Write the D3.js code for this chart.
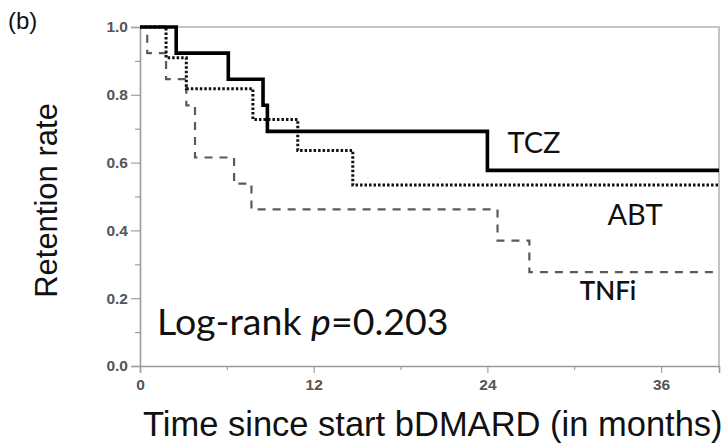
<!DOCTYPE html>
<html>
<head>
<meta charset="utf-8">
<script src="https://cdn.jsdelivr.net/npm/d3@7"></script>
<style>
  html, body { margin: 0; padding: 0; background: #fff; }
  svg { display: block; }
</style>
</head>
<body>
<svg id="chart" width="722" height="443"></svg>
<script>
// ---- data ----
const groups = ["TCZ", "ABT", "TNFi"];
const tczTimes  = [0, 2.5, 6.1, 8.5, 8.8, 24.0];
const tczRates  = [1.0, 0.923, 0.846, 0.769, 0.692, 0.577];
const abtTimes  = [0, 1.8, 3.2, 7.8, 10.9, 14.7];
const abtRates  = [1.0, 0.909, 0.818, 0.727, 0.636, 0.534];
const tnfTimes  = [0, 0.5, 1.8, 3.2, 3.8, 6.5, 7.7, 24.7, 26.9];
const tnfRates  = [1.0, 0.923, 0.846, 0.769, 0.615, 0.538, 0.462, 0.370, 0.277];
const followUpEnd = 40;
const xTicks = [0, 12, 24, 36];
const xMinorTicks = [6, 18, 30];
const yTicks = [0, 0.2, 0.4, 0.6, 0.8, 1.0];
const yMinorTicks = [0.1, 0.3, 0.5, 0.7, 0.9];
const pValueText = "0.203";

// ---- layout ----
const svg = d3.select("#chart");
const m = { left: 140, top: 27, right: 3, bottom: 77 };
const W = 722, H = 443;
const x = d3.scaleLinear().domain([0, followUpEnd]).range([m.left, W - m.right]);
const y = d3.scaleLinear().domain([0, 1]).range([H - m.bottom, m.top]);

// frame (top / right)
svg.append("path")
  .attr("d", `M${x(0)},${y(1)}H${x(followUpEnd)}V${y(0)}`)
  .attr("fill", "none").attr("stroke", "#c4c4c4").attr("stroke-width", 2);

// axes
const fmt = d3.format(".1f");
svg.append("g").attr("transform", `translate(${x(0)},0)`)
  .call(d3.axisLeft(y).tickValues(yTicks).tickFormat(fmt).tickSize(9).tickPadding(3));
svg.append("g").attr("transform", `translate(${x(0)},0)`)
  .call(d3.axisLeft(y).tickValues(yMinorTicks).tickFormat("").tickSize(5))
  .call(g => g.select(".domain").remove());
svg.append("g").attr("transform", `translate(0,${y(0)})`)
  .call(d3.axisBottom(x).tickValues(xTicks).tickFormat(d3.format("d")).tickSize(7).tickPadding(6));
svg.append("g").attr("transform", `translate(0,${y(0)})`)
  .call(d3.axisBottom(x).tickValues(xMinorTicks).tickFormat("").tickSize(4))
  .call(g => g.select(".domain").remove());

svg.selectAll(".domain").attr("stroke", "#9a9a9a").attr("stroke-width", 1.6);
svg.selectAll(".tick line").attr("stroke", "#a0a0a0").attr("stroke-width", 1.2);
svg.selectAll(".tick text")
  .attr("font-family", "Liberation Sans, Arial, sans-serif")
  .attr("font-size", 15.5).attr("font-weight", "bold").attr("fill", "#555");

// step curves
function steps(times, rates) {
  const pts = times.map((t, i) => [t, rates[i]]);
  pts.push([followUpEnd, rates[rates.length - 1]]);
  return pts;
}
const line = d3.line().x(d => x(d[0])).y(d => y(d[1])).curve(d3.curveStepAfter);
const styles = {
  TNFi: { stroke: "#5a5a5a", width: 2.2, dash: "8,7" },
  ABT:  { stroke: "#111", width: 3, dash: "2.5,2" },
  TCZ:  { stroke: "#000",    width: 3.6, dash: null }
};
const series = { TCZ: steps(tczTimes, tczRates), ABT: steps(abtTimes, abtRates), TNFi: steps(tnfTimes, tnfRates) };
["TNFi", "ABT", "TCZ"].forEach(g => {
  svg.append("path").datum(series[g])
    .attr("d", line).attr("fill", "none")
    .attr("stroke", styles[g].stroke).attr("stroke-width", styles[g].width)
    .attr("stroke-dasharray", styles[g].dash);
});

// group labels
const labelFont = "Lato, 'Open Sans', sans-serif";
const labelPos = { TCZ: [534, 153], ABT: [635, 225], TNFi: [608, 300] };
groups.forEach(g => {
  svg.append("text").attr("x", labelPos[g][0]).attr("y", labelPos[g][1])
    .attr("text-anchor", "middle").attr("font-family", labelFont)
    .attr("font-size", g === "TNFi" ? 26 : 29)
    .attr("font-weight", g === "TNFi" ? 600 : 400)
    .attr("fill", "#111").text(g);
});

// log-rank annotation
const lr = svg.append("text").attr("x", 157).attr("y", 335)
  .attr("font-family", labelFont).attr("font-size", 37.5).attr("fill", "#111");
lr.append("tspan").text("Log-rank ");
lr.append("tspan").attr("font-style", "italic").text("p");
lr.append("tspan").text("=" + pValueText);

// axis titles
svg.append("text").attr("transform", `translate(57,${(y(0) + y(1)) / 2 + 4}) rotate(-90)`)
  .attr("text-anchor", "middle").attr("font-family", "Liberation Sans, Arial, sans-serif")
  .attr("font-size", 31).attr("fill", "#111").text("Retention rate");
svg.append("text").attr("x", 143).attr("y", 436)
  .attr("font-family", "Liberation Sans, Arial, sans-serif")
  .attr("font-size", 34.5).attr("fill", "#111").text("Time since start bDMARD (in months)");

// panel tag
svg.append("text").attr("x", 8).attr("y", 29)
  .attr("font-family", "Liberation Sans, Arial, sans-serif")
  .attr("font-size", 24).attr("fill", "#111").text("(b)");
</script>
</body>
</html>
